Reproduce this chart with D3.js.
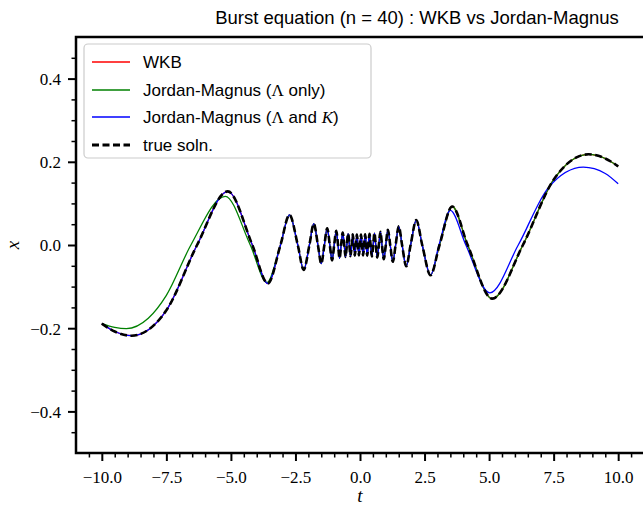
<!DOCTYPE html>
<html>
<head>
<meta charset="utf-8">
<script src="https://cdn.jsdelivr.net/npm/d3@7"></script>
<style>
 body { margin: 0; background: #fff; }
 svg { display: block; }
 .tick-label { font-family: "Liberation Serif", serif; font-size: 17px; fill: #000; }
</style>
</head>
<body>
<div id="chart"></div>
<script>
// values
// true solution (and WKB, which sits on top of it): extrema and zero crossings
const trueT = [-10, -9.5, -8.85, -7.5, -6.31, -5.12, -4.17, -3.57, -3.08, -2.73, -2.41, -2.18, -1.96, -1.79,
 -1.63, -1.5, -1.38, -1.27, -1.17, -1.08, -1.0, -0.92, -0.85, -0.79, -0.73, -0.67, -0.61, -0.56,
 -0.51, -0.46, -0.41, -0.37, -0.32, -0.28, -0.24, -0.2, -0.16, -0.12, -0.08, -0.04, 0,
 0.04, 0.08, 0.12, 0.16, 0.2, 0.24, 0.28, 0.32, 0.37, 0.41, 0.46, 0.51, 0.56, 0.61, 0.67, 0.73,
 0.79, 0.85, 0.92, 1.0, 1.08, 1.17, 1.27, 1.38, 1.5, 1.63, 1.79, 1.96, 2.18, 2.41, 2.73, 3.08,
 3.57, 4.17, 5.12, 6.31, 7.5, 8.85, 9.5, 10];
const trueX = [-0.189, -0.208, -0.218, -0.157, 0, 0.129, 0, -0.0925, 0, 0.0724, 0, -0.0598, 0, 0.0512,
 0, -0.045, 0, 0.0404, 0, -0.0368, 0, 0.0341, 0, -0.0318, 0, 0.0301, 0, -0.0287,
 0, 0.0275, 0, -0.0267, 0, 0.026, 0, -0.0255, 0, 0.0252, 0, -0.025, 0,
 0.025, 0, -0.0252, 0, 0.0255, 0, -0.026, 0, 0.0267, 0, -0.0275, 0, 0.0287, 0, -0.0301, 0,
 0.0318, 0, -0.0341, 0, 0.0368, 0, -0.0404, 0, 0.045, 0, -0.0512, 0, 0.0598, 0, -0.0724, 0,
 0.0925, 0, -0.129, 0, 0.157, 0.218, 0.208, 0.189];

// WKB lies on the true solution everywhere
const wkbT = trueT;
const wkbX = trueX;

// Jordan-Magnus (Lambda only): differs on the left, then joins the true curve
const jmLamT = [-10, -9.5, -9.05, -8.2, -7.5, -6.55, -5.22, -4.25, -3.6];
const jmLamX = [-0.189, -0.198, -0.201, -0.176, -0.121, 0, 0.117, 0, -0.09];
const jmLamJoin = -3.5;

// Jordan-Magnus (Lambda and K): follows the true curve, then drifts on the right
const jmFullT = [3.06, 3.5, 4.1, 5.03, 6.13, 7.3, 8.65, 9.5, 10];
const jmFullX = [0, 0.083, 0, -0.115, 0, 0.138, 0.187, 0.172, 0.147];
const jmFullSplit = 2.8;

const xTicks = [-10, -7.5, -5, -2.5, 0, 2.5, 5, 7.5, 10];
const yTicks = [-0.4, -0.2, 0, 0.2, 0.4];
const xMinor = [-10.5, -9.5, -9, -8.5, -8, -7, -6.5, -6, -5.5, -4.5, -4, -3.5, -3, -2, -1.5, -1, -0.5,
 0.5, 1, 1.5, 2, 3, 3.5, 4, 4.5, 5.5, 6, 6.5, 7, 8, 8.5, 9, 9.5, 10.5];
const yMinor = [-0.45, -0.35, -0.3, -0.25, -0.15, -0.1, -0.05, 0.05, 0.1, 0.15, 0.25, 0.3, 0.35, 0.45];

// legend labels as [text, style] runs; "m" = upright math, "mi" = italic math
const legendLabels = [
 [["WKB", ""]],
 [["Jordan-Magnus (", ""], ["Λ", "m"], [" only)", ""]],
 [["Jordan-Magnus (", ""], ["Λ", "m"], [" and ", ""], ["K", "mi"], [")", ""]],
 [["true soln.", ""]],
];

const width = 643;
const height = 514;
const plot = { left: 76, right: 644, top: 37, bottom: 453 };

const svg = d3
 .select("#chart")
 .append("svg")
 .attr("width", width)
 .attr("height", height);

const x = d3.scaleLinear().domain([-11, 11]).range([plot.left, plot.right]);
const y = d3.scaleLinear().domain([-0.5, 0.5]).range([plot.bottom, plot.top]);

const zip = (ts, xs) => ts.map((t, i) => [t, xs[i]]);
const truePts = zip(trueT, trueX);
const wkbPts = zip(wkbT, wkbX);
const jmLamPts = zip(jmLamT, jmLamX).concat(truePts.filter((d) => d[0] > jmLamJoin));
const jmFullPts = truePts.filter((d) => d[0] < jmFullSplit).concat(zip(jmFullT, jmFullX));

const line = d3
 .line()
 .x((d) => x(d[0]))
 .y((d) => y(d[1]))
 .curve(d3.curveMonotoneX);

svg.append("defs").append("clipPath").attr("id", "clip")
 .append("rect")
 .attr("x", plot.left).attr("y", plot.top)
 .attr("width", plot.right - plot.left).attr("height", plot.bottom - plot.top);

const lines = svg.append("g").attr("clip-path", "url(#clip)");

const series = [
 { pts: wkbPts, color: "#ff0000", w: 1.3, dash: null },
 { pts: jmLamPts, color: "#008000", w: 1.3, dash: null },
 { pts: jmFullPts, color: "#0000ff", w: 1.3, dash: null },
 { pts: truePts, color: "#000000", w: 2.6, dash: "7,3.5" },
];

series.forEach((s) => {
 lines
  .append("path")
  .datum(s.pts)
  .attr("fill", "none")
  .attr("stroke", s.color)
  .attr("stroke-width", s.w)
  .attr("stroke-dasharray", s.dash)
  .attr("d", line);
});

// axes
const fmt = d3.format(".1f");

const xAxis = svg
 .append("g")
 .attr("transform", `translate(0,${plot.bottom})`)
 .call(d3.axisBottom(x).tickValues(xTicks).tickSize(8).tickFormat(fmt));
xAxis.select(".domain").remove();
xAxis.selectAll("line").attr("stroke-width", 2);
xAxis.selectAll("text")
 .attr("class", "tick-label")
 .attr("y", 30)
 .attr("dy", null);

const xAxisMinor = svg
 .append("g")
 .attr("transform", `translate(0,${plot.bottom})`)
 .call(d3.axisBottom(x).tickValues(xMinor).tickSize(4.5).tickFormat(""));
xAxisMinor.select(".domain").remove();
xAxisMinor.selectAll("line").attr("stroke-width", 1.5);

const yAxis = svg
 .append("g")
 .attr("transform", `translate(${plot.left},0)`)
 .call(d3.axisLeft(y).tickValues(yTicks).tickSize(8).tickFormat(fmt));
yAxis.select(".domain").remove();
yAxis.selectAll("line").attr("stroke-width", 2);
yAxis.selectAll("text")
 .attr("class", "tick-label")
 .attr("x", -15)
 .attr("dy", "0.35em");

const yAxisMinor = svg
 .append("g")
 .attr("transform", `translate(${plot.left},0)`)
 .call(d3.axisLeft(y).tickValues(yMinor).tickSize(4.5).tickFormat(""));
yAxisMinor.select(".domain").remove();
yAxisMinor.selectAll("line").attr("stroke-width", 1.5);

svg.selectAll(".tick text").attr("font-family", null).attr("font-size", null);

// frame (right spine falls just outside the picture)
svg
 .append("rect")
 .attr("x", plot.left)
 .attr("y", plot.top)
 .attr("width", plot.right - plot.left + 4)
 .attr("height", plot.bottom - plot.top)
 .attr("fill", "none")
 .attr("stroke", "#000")
 .attr("stroke-width", 2.5);

// labels
svg
 .append("text")
 .attr("x", 417)
 .attr("y", 24)
 .attr("text-anchor", "middle")
 .style("font-family", "'Liberation Sans', sans-serif")
 .style("font-size", "18.5px")
 .text("Burst equation (n = 40) : WKB vs Jordan-Magnus");

svg
 .append("text")
 .attr("x", (plot.left + plot.right) / 2)
 .attr("y", 502)
 .attr("text-anchor", "middle")
 .style("font-family", "'Liberation Serif', serif")
 .style("font-style", "italic")
 .style("font-size", "19px")
 .text("t");

svg
 .append("text")
 .attr("transform", `translate(19,${y(0)}) rotate(-90)`)
 .attr("text-anchor", "middle")
 .style("font-family", "'Liberation Serif', serif")
 .style("font-style", "italic")
 .style("font-size", "19px")
 .text("x");

// legend
const legend = svg.append("g");
legend
 .append("rect")
 .attr("x", 84)
 .attr("y", 44)
 .attr("width", 287)
 .attr("height", 114)
 .attr("rx", 4)
 .attr("fill", "#fff")
 .attr("fill-opacity", 0.8)
 .attr("stroke", "#cccccc")
 .attr("stroke-width", 1.2);

const rowY = [62, 90, 117, 145];
legendLabels.forEach((runs, i) => {
 const s = series[i];
 legend
  .append("line")
  .attr("x1", 92)
  .attr("x2", 130)
  .attr("y1", rowY[i])
  .attr("y2", rowY[i])
  .attr("stroke", s.color)
  .attr("stroke-width", s.w + 0.4)
  .attr("stroke-dasharray", s.dash);
 const t = legend
  .append("text")
  .attr("x", 143)
  .attr("y", rowY[i])
  .attr("dy", "0.35em")
  .style("font-family", "'Liberation Sans', sans-serif")
  .style("font-size", "17px");
 runs.forEach(([txt, kind]) => {
  const ts = t.append("tspan").text(txt);
  if (kind === "m") ts.style("font-family", "'Liberation Serif', serif");
  if (kind === "mi") ts.style("font-family", "'Liberation Serif', serif").style("font-style", "italic");
 });
});
</script>
</body>
</html>
